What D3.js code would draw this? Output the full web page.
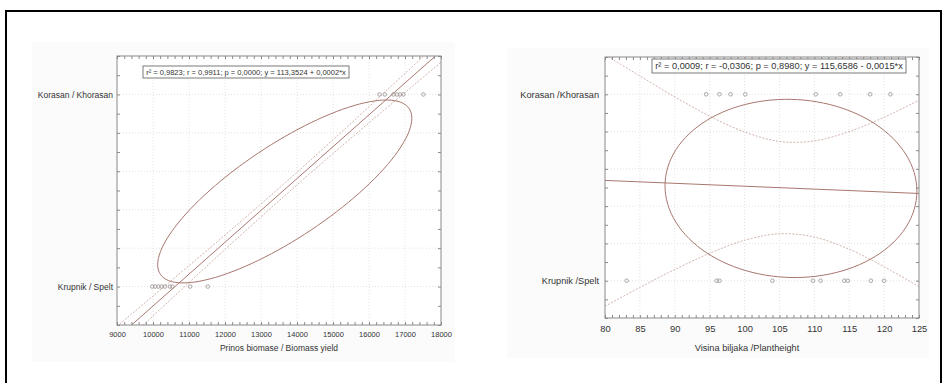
<!DOCTYPE html>
<html>
<head>
<meta charset="utf-8">
<script src="https://cdn.jsdelivr.net/npm/d3@7"></script>
<style>
  body { margin: 0; background: #fff; }
  svg { display: block; font-family: "Liberation Sans", Arial, sans-serif; }
</style>
</head>
<body>
<svg width="948" height="383"></svg>
<script>
// y categories, coded 0 (Krupnik) and 1 (Korasan)
const labelsLeft = ["Krupnik / Spelt", "Korasan / Khorasan"]
const labelsRight = ["Krupnik /Spelt", "Korasan /Khorasan"]

// left panel: biomass yield
const biomassSpelt = [9980, 10060, 10150, 10240, 10330, 10470, 10540, 11030, 11520]
const biomassKhorasan = [16290, 16440, 16680, 16780, 16860, 16950, 17510]
const biomassTicks = [9000, 10000, 11000, 12000, 13000, 14000, 15000, 16000, 17000, 18000]
const biomassFit = [[9404, -0.2], [17846, 1.2]]
const biomassBandX = [9000, 10000, 11000, 12000, 13000, 14000, 15000, 16000, 17000, 18000]
const biomassBandUpper = [-0.206, -0.049, 0.109, 0.268, 0.430, 0.595, 0.764, 0.936, 1.109, 1.284]
const biomassBandLower = [-0.328, -0.153, 0.021, 0.193, 0.363, 0.529, 0.692, 0.852, 1.010, 1.167]
// ellipse: centre x, centre y, half range x, half range y, correlation
const biomassEllipse = [13660, 0.495, 3530, 0.476, 0.80]
const biomassStats = "r² = 0,9823; r = 0,9911; p = 0,0000; y = 113,3524 + 0,0002*x"

// right panel: plant height
const heightSpelt = [83.1, 96.0, 96.4, 104.0, 109.8, 110.9, 114.3, 114.8, 118.1, 120.0]
const heightKhorasan = [94.5, 96.4, 98.0, 100.1, 110.2, 113.7, 118.0, 120.9]
const heightTicks = [80, 85, 90, 95, 100, 105, 110, 115, 120, 125]
const heightFit = [[80, 0.538], [125, 0.468]]
const heightBandX = [80, 85, 90, 95, 100, 105, 110, 115, 120, 125]
const heightBandUpper = [1.213, 1.098, 0.986, 0.883, 0.798, 0.747, 0.750, 0.800, 0.877, 0.968]
const heightBandLower = [-0.137, -0.036, 0.060, 0.147, 0.217, 0.252, 0.234, 0.169, 0.075, -0.032]
const heightEllipse = [106.65, 0.495, 18.05, 0.478, -0.03]
const heightStats = "r² = 0,0009; r = -0,0306; p = 0,8980; y = 115,6586 - 0,0015*x"

const svg = d3.select("svg")

// outer frame (open at the bottom)
svg.append("path")
    .attr("d", "M6,383V11H941V383")
    .attr("fill", "none")
    .attr("stroke", "#000")
    .attr("stroke-width", 2)

const LINE = "#a8776e"
const BAND = "#cdaaa4"

function drawPanel(cfg) {
    const x = d3.scaleLinear().domain(cfg.xDomain).range([cfg.left, cfg.right])
    const y = d3.scaleLinear().domain([-0.2, 1.2]).range([cfg.bottom, cfg.top])
    const g = svg.append("g")

    g.append("rect")
        .attr("x", cfg.bg[0]).attr("y", cfg.bg[1])
        .attr("width", cfg.bg[2] - cfg.bg[0]).attr("height", cfg.bg[3] - cfg.bg[1])
        .attr("fill", "#fbfbfb")

    g.append("rect")
        .attr("x", cfg.left).attr("y", cfg.top)
        .attr("width", cfg.right - cfg.left).attr("height", cfg.bottom - cfg.top)
        .attr("fill", "#fff")

    g.append("clipPath").attr("id", cfg.id)
        .append("rect")
        .attr("x", cfg.left).attr("y", cfg.top)
        .attr("width", cfg.right - cfg.left).attr("height", cfg.bottom - cfg.top)

    // grid
    g.append("g")
        .selectAll("line")
        .data(cfg.ticks.slice(1, -1))
        .join("line")
        .attr("x1", d => x(d)).attr("x2", d => x(d))
        .attr("y1", cfg.top).attr("y2", cfg.bottom)
        .attr("stroke", "#e2e2e2").attr("stroke-dasharray", "1,2")
    g.append("g")
        .selectAll("line")
        .data([0, 0.2, 0.4, 0.6, 0.8, 1.0])
        .join("line")
        .attr("x1", cfg.left).attr("x2", cfg.right)
        .attr("y1", d => y(d)).attr("y2", d => y(d))
        .attr("stroke", "#e2e2e2").attr("stroke-dasharray", "1,2")

    const plot = g.append("g").attr("clip-path", `url(#${cfg.id})`)

    // confidence bands
    const band = d3.line()
        .x((d, i) => x(cfg.bandX[i]))
        .y(d => y(d))
        .curve(d3.curveCatmullRom)
    ;[cfg.upper, cfg.lower].forEach(arr => {
        plot.append("path")
            .attr("d", band(arr))
            .attr("fill", "none")
            .attr("stroke", BAND)
            .attr("stroke-width", 0.9)
            .attr("stroke-dasharray", "2,1.5")
    })

    // regression line
    plot.append("path")
        .attr("d", d3.line().x(d => x(d[0])).y(d => y(d[1]))(cfg.fit))
        .attr("fill", "none")
        .attr("stroke", LINE)
        .attr("stroke-width", 1)

    // ellipse
    const [cx, cy, ex, ey, r] = cfg.ellipse
    const phi = Math.acos(r)
    const pts = d3.range(0, 360, 3).map(a => {
        const t = a * Math.PI / 180
        return [cx + ex * Math.cos(t), cy + ey * Math.cos(t + phi)]
    })
    plot.append("path")
        .attr("d", d3.line().x(d => x(d[0])).y(d => y(d[1])).curve(d3.curveLinearClosed)(pts))
        .attr("fill", "none")
        .attr("stroke", LINE)
        .attr("stroke-width", 1)

    // points
    const points = cfg.spelt.map(v => [v, 0]).concat(cfg.khorasan.map(v => [v, 1]))
    plot.append("g")
        .selectAll("circle")
        .data(points)
        .join("circle")
        .attr("cx", d => x(d[0]))
        .attr("cy", d => y(d[1]))
        .attr("r", 1.8)
        .attr("fill", "none")
        .attr("stroke", "#9a9090")
        .attr("stroke-width", 0.8)

    // frame
    g.append("rect")
        .attr("x", cfg.left).attr("y", cfg.top)
        .attr("width", cfg.right - cfg.left).attr("height", cfg.bottom - cfg.top)
        .attr("fill", "none")
        .attr("stroke", "#8a8a8a")

    // inward tick marks on all four sides
    const step = (cfg.ticks[1] - cfg.ticks[0]) / 5
    const minor = d3.range(0, 46).map(i => cfg.ticks[0] + i * step)
    const yMinor = d3.range(-2, 13).map(i => i / 10)
    const tickAxes = [
        [d3.axisBottom(x).tickValues(minor), cfg.bottom, "y"],
        [d3.axisTop(x).tickValues(minor), cfg.top, "y"],
        [d3.axisLeft(y).tickValues(yMinor), cfg.left, "x"],
        [d3.axisRight(y).tickValues(yMinor), cfg.right, "x"]
    ]
    tickAxes.forEach(([axis, pos, dir]) => {
        const a = g.append("g")
            .attr("transform", dir === "y" ? `translate(0,${pos})` : `translate(${pos},0)`)
            .call(axis.tickSize(-3).tickFormat(""))
        a.select(".domain").remove()
        a.selectAll("line").attr("stroke", "#8a8a8a")
    })

    // tick labels
    const xl = g.append("g")
        .attr("transform", `translate(0,${cfg.bottom})`)
        .call(d3.axisBottom(x).tickValues(cfg.ticks).tickSize(0).tickPadding(cfg.tickPad)
            .tickFormat(d3.format("d")))
    xl.select(".domain").remove()
    xl.selectAll("text")
        .attr("font-family", null)
        .style("font-size", cfg.tickFont + "px")
        .attr("fill", "#333")

    const yl = g.append("g")
        .attr("transform", `translate(${cfg.left},0)`)
        .call(d3.axisLeft(y).tickValues([0, 1]).tickSize(0).tickPadding(cfg.labelPad)
            .tickFormat(d => cfg.labels[d]))
    yl.select(".domain").remove()
    yl.selectAll("text")
        .attr("font-family", null)
        .style("font-size", cfg.labelFont + "px")
        .attr("fill", "#333")

    g.append("text")
        .attr("x", cfg.titleX)
        .attr("y", cfg.titleY)
        .attr("text-anchor", "middle")
        .style("font-size", cfg.labelFont + "px")
        .attr("fill", "#333")
        .text(cfg.title)

    // statistics box
    const [bx0, by0, bx1, by1] = cfg.box
    g.append("rect")
        .attr("x", bx0).attr("y", by0)
        .attr("width", bx1 - bx0).attr("height", by1 - by0)
        .attr("fill", "#fff")
        .attr("stroke", "#7a7a7a")
    const st = g.append("text")
        .attr("x", (bx0 + bx1) / 2)
        .attr("y", (by0 + by1) / 2)
        .attr("dy", "0.35em")
        .attr("text-anchor", "middle")
        .style("font-size", "10px")
        .attr("fill", "#333")
        .text(cfg.stats)
    const w = st.node().getComputedTextLength()
    st.style("font-size", (10 * (bx1 - bx0 - 6) / w) + "px")
}

drawPanel({
    id: "clipLeft",
    xDomain: [9000, 18000],
    left: 117, right: 441, top: 56, bottom: 325,
    bg: [32, 42, 455, 362],
    ticks: biomassTicks,
    spelt: biomassSpelt, khorasan: biomassKhorasan,
    fit: biomassFit,
    bandX: biomassBandX, upper: biomassBandUpper, lower: biomassBandLower,
    ellipse: biomassEllipse,
    labels: labelsLeft,
    title: "Prinos biomase / Biomass yield",
    titleX: 279, titleY: 351,
    tickFont: 7.5, tickPad: 7, labelFont: 8.5, labelPad: 4,
    box: [143, 66, 349, 78],
    stats: biomassStats
})

drawPanel({
    id: "clipRight",
    xDomain: [80, 125],
    left: 605, right: 919, top: 57, bottom: 318,
    bg: [507, 48, 929, 358],
    ticks: heightTicks,
    spelt: heightSpelt, khorasan: heightKhorasan,
    fit: heightFit,
    bandX: heightBandX, upper: heightBandUpper, lower: heightBandLower,
    ellipse: heightEllipse,
    labels: labelsRight,
    title: "Visina biljaka /Plantheight",
    titleX: 747, titleY: 351,
    tickFont: 9.4, tickPad: 7, labelFont: 9.2, labelPad: 6,
    box: [652, 59, 906, 73],
    stats: heightStats
})
</script>
</body>
</html>
